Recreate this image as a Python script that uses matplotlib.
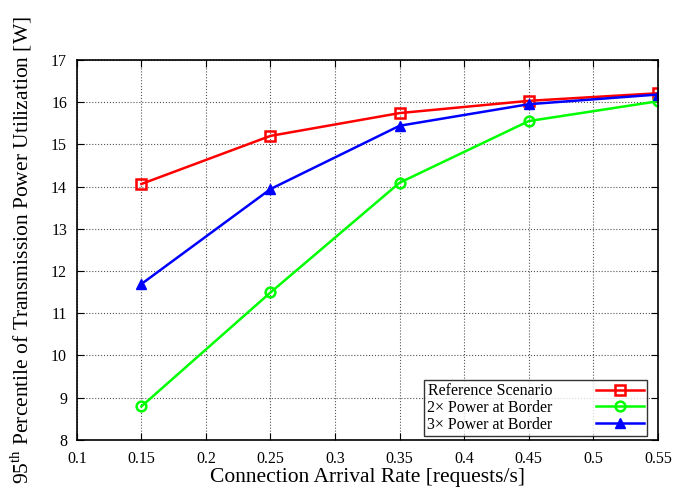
import numpy as np
import matplotlib.pyplot as plt

plt.rcParams['font.family'] = ['Liberation Serif', 'DejaVu Serif']
plt.rcParams['mathtext.fontset'] = 'custom'
plt.rcParams['mathtext.rm'] = 'Liberation Serif'

rates = [0.15, 0.25, 0.35, 0.45, 0.55]
reference = [14.06, 15.2, 15.74, 16.03, 16.21]
power_2x = [8.79, 11.49, 14.09, 15.55, 16.02]
power_3x = [11.69, 13.94, 15.44, 15.95, 16.18]

fig = plt.figure(figsize=(6.74, 4.87), dpi=100)
ax = fig.add_axes([0.114, 0.097, 0.862, 0.780])

ax.plot(rates, reference, color='#ff0000', marker='s', ms=7, mfc='none', mew=1.8,
        lw=1.8, label='Reference Scenario')
ax.plot(rates, power_2x, color='#00ff00', marker='o', ms=7, mfc='none', mew=1.8,
        lw=1.8, label='2\u00d7 Power at Border')
ax.plot(rates, power_3x, color='#0000ff', marker='^', ms=7.5, lw=1.8,
        label='3\u00d7 Power at Border')

ax.set_xlim(0.1, 0.55)
ax.set_ylim(8, 17)
ax.set_xticks(np.arange(0.1, 0.551, 0.05))
ax.set_xticklabels(['0.1', '0.15', '0.2', '0.25', '0.3', '0.35', '0.4', '0.45', '0.5', '0.55'])
ax.set_yticks(range(8, 18))
ax.grid(True, linestyle=':', color='#555555', lw=0.8)
ax.tick_params(direction='in', top=True, right=True, labelsize=11.5, length=5)
ax.tick_params(axis='x', pad=8)
ax.tick_params(axis='y', pad=7)
for s in ax.spines.values():
    s.set_linewidth(1.2)

ax.set_xlabel('Connection Arrival Rate [requests/s]', fontsize=15.5, labelpad=1)
ax.set_ylabel('95$^{\\rm th}$ Percentile of Transmission Power Utilization [W]',
              fontsize=15.5, labelpad=12)

leg = ax.legend(loc='lower right', bbox_to_anchor=(0.981, 0.01), fontsize=11.5,
                frameon=True, fancybox=False, edgecolor='black', markerfirst=False,
                handlelength=3, handletextpad=2.7, borderpad=0.2,
                labelspacing=0.05, borderaxespad=0.0)
leg.get_frame().set_linewidth(1.0)

fig.savefig('out.png', dpi=100)
